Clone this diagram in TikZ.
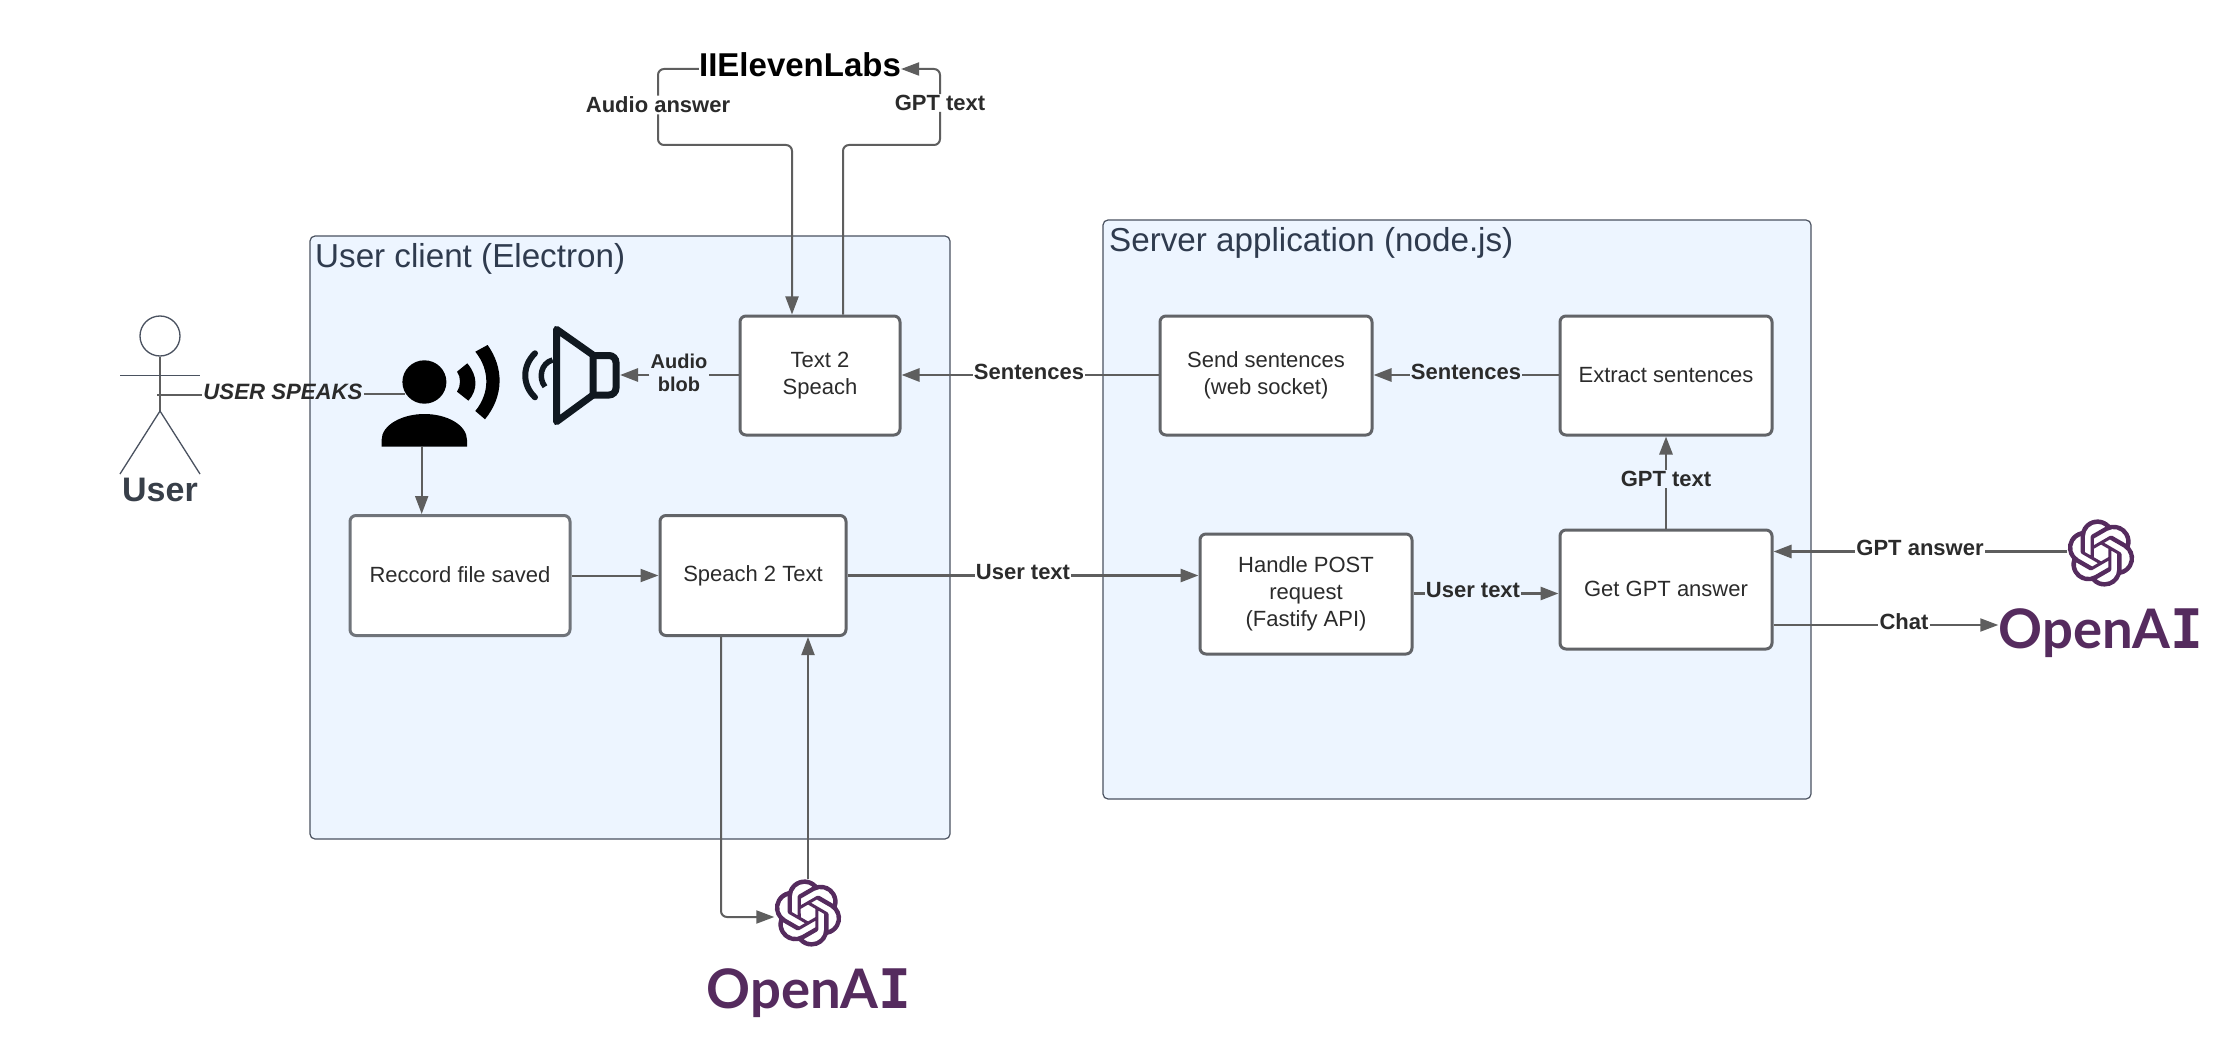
\documentclass[tikz,border=0pt]{standalone}
\usepackage{fontspec}
\setmainfont{Liberation Sans}
\newfontfamily\oaifont{Lato}
\newfontfamily\oaimono{DejaVu Sans Mono}
\usetikzlibrary{arrows.meta,svg.path}
\definecolor{grpfill}{HTML}{EDF5FF}
\definecolor{grpline}{HTML}{4A5260}
\definecolor{usercol}{HTML}{383F49}
\definecolor{titlecol}{HTML}{2F3B4E}
\definecolor{linegray}{HTML}{5E5E5E}
\definecolor{boxline}{HTML}{626468}
\definecolor{recline}{HTML}{70747A}
\definecolor{txt}{HTML}{2B2B2B}
\definecolor{oaipurple}{HTML}{552B5E}
\definecolor{spk}{HTML}{101820}
\newcommand\fsz[1]{\fontsize{#1pt}{#1pt}\selectfont}
\newcommand\oailogo[1]{\fill[oaipurple,shift={(#1)},xscale=2.8,yscale=-2.8,shift={(-12pt,-12pt)}] svg {M22.2819 9.8211 a5.9847 5.9847 0 0 0 -.5157 -4.9108 a6.0462 6.0462 0 0 0 -6.5098 -2.9 A6.0651 6.0651 0 0 0 4.9807 4.1818 a5.9847 5.9847 0 0 0 -3.9977 2.9 a6.0462 6.0462 0 0 0 .7427 7.0966 a5.98 5.98 0 0 0 .511 4.9107 a6.051 6.051 0 0 0 6.5146 2.9001 A5.9847 5.9847 0 0 0 13.2599 24 a6.0557 6.0557 0 0 0 5.7718 -4.2058 a5.9894 5.9894 0 0 0 3.9977 -2.9001 a6.0557 6.0557 0 0 0 -.7475 -7.0729 z M13.2599 22.4292 a4.4755 4.4755 0 0 1 -2.8764 -1.0408 l.1419 -.0804 l4.7783 -2.7582 l.3927 -.6813 v-6.7369 l2.02 1.1686 l.038 .052 v5.5826 a4.504 4.504 0 0 1 -4.4945 4.4944 z M3.5992 18.3038 a4.4708 4.4708 0 0 1 -.5346 -3.0137 l.142 .0852 l4.783 2.7582 l.7806 0 l5.8428 -3.3685 v2.3324 l-.0332 .0615 L9.74 19.9502 a4.4992 4.4992 0 0 1 -6.1408 -1.6464 z M2.3408 7.8956 a4.485 4.485 0 0 1 2.3655 -1.9728 V11.6 l.3879 .6765 l5.8144 3.3543 l-2.0201 1.1685 l-.071 0 l-4.8303 -2.7865 A4.504 4.504 0 0 1 2.3408 7.872 z M18.9371 11.7514 L13.1038 8.364 L15.1192 7.2 l.071 0 l4.8303 2.7913 a4.4944 4.4944 0 0 1 -.6765 8.1042 v-5.6772 l-.407 -.667 z M20.9478 8.7283 l-.142 -.0852 l-4.7735 -2.7818 l-.7854 0 L9.409 9.2297 V6.8974 l.0284 -.0615 l4.8303 -2.7866 a4.4992 4.4992 0 0 1 6.6802 4.66 z M8.3065 12.863 l-2.02 -1.1638 l-.038 -.0567 V6.0742 a4.4992 4.4992 0 0 1 7.3757 -3.4537 l-.142 .0805 L8.704 5.459 l-.3927 .6813 z M9.4041 10.4976 l2.602 -1.4998 l2.6069 1.4998 v2.9994 l-2.5974 1.4997 l-2.6067 -1.4997 Z};}
\tikzset{
  x=1pt,y=-1pt,
  group/.style={draw=grpline,fill=grpfill,line width=1.2pt,rounded corners=5pt},
  grouptitle/.style={anchor=west,text=titlecol,font=\fsz{33.2},inner sep=0pt},
  box/.style={draw=boxline,fill=white,line width=3pt,rounded corners=6pt,text=txt,font=\fsz{22},align=center,inner sep=0pt},
  lbl/.style={text=txt,font=\bfseries\fsz{22},align=center,inner sep=1pt},
  blbl/.style={lbl,font=\bfseries\fsz{20}},
  link/.style={draw=linegray,line width=2.8pt,rounded corners=6pt},
  conn/.style={link,-{Triangle[length=18pt,width=13pt]}},
  thin link/.style={draw=linegray,line width=2pt,rounded corners=6pt},
  thin conn/.style={thin link,-{Triangle[length=18pt,width=13pt]}},
  oaitext/.style={text=oaipurple,font=\oaifont\bfseries\fsz{54.5},inner sep=0pt,anchor=base},
  stick/.style={draw=grpline,line width=1.3pt},
}
\begin{document}
\begin{tikzpicture}
\useasboundingbox[fill=white] (0,0) rectangle (2240,1059);
% groups
\draw[group] (310,236) rectangle (950,839);
\draw[group] (1103,220) rectangle (1811,799);
\node[grouptitle] (clienttitle) at (315,259) {User client (Electron)};
\node[grouptitle] (servertitle) at (1109,243) {Server application (node.js)};
% boxes
\node[box,minimum width=160pt,minimum height=119pt] (tts) at (820,375.5) {Text 2\\[5pt]Speach};
\node[box,minimum width=212pt,minimum height=119pt] (send) at (1266,375.5) {Send sentences\\[5pt](web socket)};
\node[box,minimum width=212pt,minimum height=119pt] (extract) at (1666,375.5) {\raisebox{1.5pt}{Extract sentences}};
\node[box,draw=recline,minimum width=220pt,minimum height=120pt] (rec) at (460,575.5) {\raisebox{1pt}{Reccord file saved}};
\node[box,minimum width=186pt,minimum height=120pt] (stt) at (753,575.5) {\raisebox{-1pt}{Speach 2 Text}};
\node[box,minimum width=212pt,minimum height=120pt] (post) at (1306,594) {Handle POST\\[5pt]request\\[5pt](Fastify API)};
\node[box,minimum width=212pt,minimum height=119pt] (gpt) at (1666,589.5) {\raisebox{1.5pt}{Get GPT answer}};
% actor
\node[circle,stick,minimum size=40pt,inner sep=0pt] (head) at (160,336) {};
\coordinate (hip) at (160,411);
\coordinate (armL) at (120,375.5);
\coordinate (armR) at (200,375.5);
\coordinate (footL) at (120,474);
\coordinate (footR) at (200,474);
\draw[draw=linegray,line width=1.6pt] (head.south) -- (hip);
\draw[stick] (armL) -- (armR);
\draw[stick] (footL) -- (hip) -- (footR);
\node[text=usercol,font=\bfseries\fsz{34},inner sep=0pt] (user) at (160,490) {User};
% person speaking icon
\fill[black] (424.4,382) ellipse [x radius=22, y radius=21.7];
\fill[black] (381.6,446.7) -- (381.6,440) .. controls (381.6,425) and (402,414) .. (424.4,414) .. controls (447,414) and (467,425) .. (467,440) -- (467,446.7) -- cycle;
\fill[black] (457,371.7) -- (467.3,363.3) .. controls (478,376) and (478,390) .. (468.4,400.7) -- (457,391.7) .. controls (461,386) and (461,377) .. (457,371.7) -- cycle;
\fill[black] (475.3,351.7) -- (487.6,345) .. controls (504,368) and (504,396) .. (485,419.3) -- (475.3,411) .. controls (490,393) and (490,370) .. (475.3,351.7) -- cycle;
\coordinate (person) at (405,394);
\coordinate (personfoot) at (421.7,446.7);
% speaker icon
\draw[spk,line width=7pt,line join=round,line cap=round] (556.5,329.3) -- (556.5,421.7) -- (593,395) -- (593,355) -- cycle;
\draw[spk,line width=7pt,rounded corners=7pt] (593,355.5) -- (616,355.5) -- (616,395) -- (593,395);
\draw[spk,line width=6pt,line cap=round] (535,353.3) .. controls (522,366) and (522,385) .. (535,397.3);
\draw[spk,line width=5.5pt] (552.6,360) .. controls (541,363) and (538,378) .. (545,386.7);
\coordinate (speaker) at (620,375);
% logos
\oailogo{808,913}
\oailogo{2101,553}
\node[circle,minimum size=67pt,inner sep=0pt] (logoA) at (808,913) {};
\node[circle,minimum size=67pt,inner sep=0pt] (logoB) at (2101,553) {};
\node[oaitext] (oaiA) at (809,1008) {OpenA{\oaimono I}};
\node[oaitext] (oaiB) at (2101,648) {OpenA{\oaimono I}};
\node[text=black,font=\bfseries\fsz{33},inner sep=0pt] (eleven) at (800,65) {IIElevenLabs};
% connectors
\node[lbl,font=\bfseries\itshape\fsz{22.2}] (speaks) at (283,392) {USER SPEAKS};
\coordinate (userhand) at (157,395);
\draw[link] (userhand) -- (speaks.west |- userhand);
\draw[link] (speaks.east |- person) -- (person);
\draw[thin conn] (personfoot) -- (personfoot |- rec.north);
\draw[thin conn] (rec.east) -- (stt.west);
% audio blob
\node[blbl] (blob) at (679,373) {Audio\\[3pt]blob};
\coordinate (bloby) at (0,375);
\draw[link] (tts.west |- bloby) -- (blob.east |- bloby);
\draw[conn] (blob.west |- bloby) -- (speaker);
% sentences
\node[lbl] (s1) at (1029,372) {Sentences};
\draw[link] (send.west |- bloby) -- (s1.east |- bloby);
\draw[conn] (s1.west |- bloby) -- (tts.east |- bloby);
\node[lbl] (s2) at (1466,372) {Sentences};
\draw[link] (extract.west |- bloby) -- (s2.east |- bloby);
\draw[conn] (s2.west |- bloby) -- (send.east |- bloby);
% gpt text
\node[lbl] (g1) at (1666,479) {GPT text};
\draw[link] (gpt.north) -- (g1.south);
\draw[conn] (g1.north) -- (extract.south);
% user text
\node[lbl] (u1) at (1023,572) {User text};
\coordinate (y1) at (0,575.5);
\draw[link] (stt.east |- y1) -- (u1.west |- y1);
\draw[conn] (u1.east |- y1) -- (post.west |- y1);
\node[lbl] (u2) at (1473,590) {User text};
\coordinate (y2) at (0,593.5);
\draw[link] (post.east |- y2) -- (u2.west |- y2);
\draw[conn] (u2.east |- y2) -- (gpt.west |- y2);
% GPT answer / chat
\node[lbl] (ga) at (1920,548) {GPT answer};
\coordinate (y3) at (0,551.5);
\draw[link] (logoB.west |- y3) -- (ga.east |- y3);
\draw[conn] (ga.west |- y3) -- (gpt.east |- y3);
\node[lbl] (chat) at (1904,622) {Chat};
\coordinate (y4) at (0,625);
\draw[thin link] (gpt.east |- y4) -- (chat.west |- y4);
\draw[thin conn] (chat.east |- y4) -- (oaiB.west |- y4);
% elevenlabs
\node[lbl] (aa) at (658,105) {Audio answer};
\node[lbl] (gt) at (940,103) {GPT text};
\coordinate (t1) at (0,69);
\coordinate (m1) at (0,145);
\coordinate (xa) at (792,0);
\coordinate (xb) at (843,0);
\draw[thin link] (eleven.west |- t1) -| (aa.north);
\draw[thin conn] (aa.south) |- (xa |- m1) -- (xa |- tts.north);
\draw[thin link] (xb |- tts.north) |- (gt.south |- m1) -- (gt.south);
\draw[thin conn] (gt.north) |- (eleven.east |- t1);
% openai speech to text
\coordinate (xc) at (721,0);
\coordinate (t2) at (0,917);
\draw[thin conn] (xc |- stt.south) |- (logoA.west |- t2);
\draw[thin conn] (logoA.north) -- (logoA.north |- stt.south);
\end{tikzpicture}
\end{document}
